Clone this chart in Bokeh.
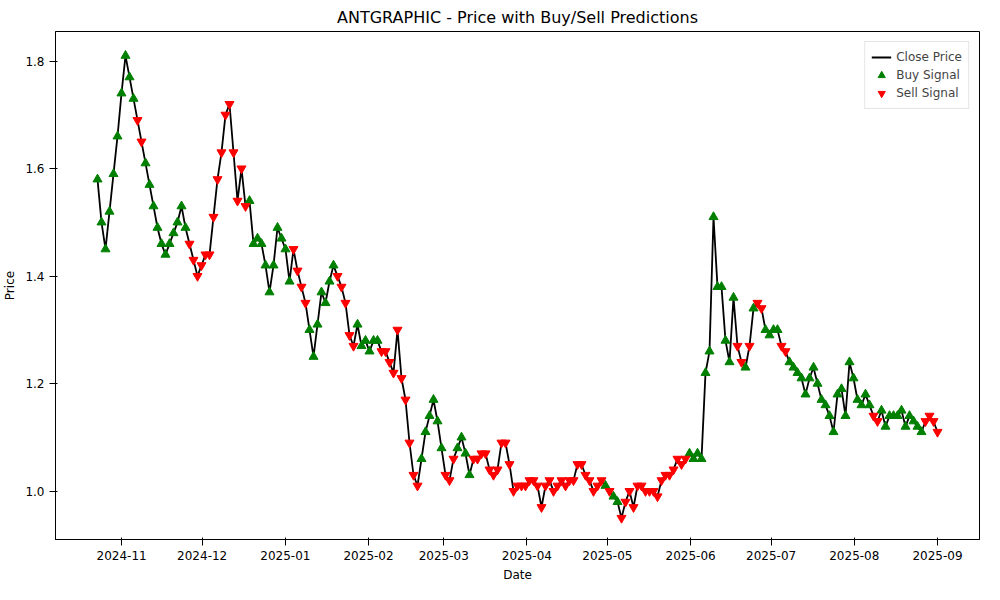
import pandas as pd
from bokeh.plotting import figure
from bokeh.models import (DatetimeTickFormatter, Legend, LegendItem, MonthsTicker,
                          NumeralTickFormatter)
from bokeh.embed import file_html
from bokeh.resources import INLINE

prices = [1.58, 1.50, 1.45, 1.52, 1.59, 1.66, 1.74, 1.81, 1.77, 1.73, 1.69, 1.65, 1.61, 1.57, 1.53, 1.49,
          1.46, 1.44, 1.46, 1.48, 1.50, 1.53, 1.49, 1.46, 1.43, 1.40, 1.42, 1.44, 1.44, 1.51, 1.58, 1.63,
          1.70, 1.72, 1.63, 1.54, 1.60, 1.53, 1.54, 1.46, 1.47, 1.46, 1.42, 1.37, 1.42, 1.49, 1.47, 1.45,
          1.39, 1.45, 1.41, 1.38, 1.35, 1.30, 1.25, 1.31, 1.37, 1.35, 1.39, 1.42, 1.40, 1.38, 1.35, 1.29,
          1.27, 1.31, 1.27, 1.28, 1.26, 1.28, 1.28, 1.26, 1.26, 1.24, 1.22, 1.30, 1.21, 1.17, 1.09, 1.03,
          1.01, 1.06, 1.11, 1.14, 1.17, 1.13, 1.08, 1.03, 1.02, 1.06, 1.08, 1.10, 1.07, 1.03, 1.06, 1.06,
          1.07, 1.07, 1.04, 1.03, 1.04, 1.09, 1.09, 1.05, 1.00, 1.01, 1.01, 1.01, 1.02, 1.02, 1.01, 0.97,
          1.01, 1.02, 1.00, 1.01, 1.02, 1.01, 1.02, 1.02, 1.05, 1.05, 1.03, 1.02, 1.00, 1.01, 1.02, 1.01,
          1.00, 0.99, 0.98, 0.95, 0.98, 1.00, 0.97, 1.01, 1.01, 1.00, 1.00, 1.00, 0.99, 1.02, 1.03, 1.03,
          1.04, 1.06, 1.05, 1.06, 1.07, 1.06, 1.07, 1.06, 1.22, 1.26, 1.51, 1.38, 1.38, 1.28, 1.24, 1.36,
          1.27, 1.24, 1.23, 1.27, 1.34, 1.35, 1.34, 1.30, 1.29, 1.30, 1.30, 1.27, 1.26, 1.24, 1.23, 1.22,
          1.21, 1.18, 1.21, 1.23, 1.20, 1.17, 1.16, 1.14, 1.11, 1.18, 1.19, 1.14, 1.24, 1.21, 1.17, 1.16,
          1.18, 1.16, 1.14, 1.13, 1.15, 1.12, 1.14, 1.14, 1.14, 1.15, 1.12, 1.14, 1.13, 1.12, 1.11, 1.13,
          1.14, 1.13, 1.11]
signals = ("BBBBBBBBBBSSBBBBBBBBBBBSSSSSSSSSSSSSSSBBBBBBBBBBBSSSSBBBBBBBSSSSSBBBBBBSSSSSSSSSS"
           "BBBBBBSSSBBBBSSSSSSSSSSSSSSSSSSSSSSSSSSSSSSSSSBSBBSSSSSSSSSSSSSSSSSBBBBBBBBBBBBS"
           "SBSBSSBBBBSSBBBBBBBBBBBBBBBBBBBBBSSBBBBBBBBBBBSSSSSSSS")
signals = (signals + "S" * len(prices))[:len(prices)]
dates = pd.date_range("2024-10-23", "2025-09-01", periods=len(prices))

buy_d = [d for d, s in zip(dates, signals) if s == "B"]
buy_p = [p for p, s in zip(prices, signals) if s == "B"]
sell_d = [d for d, s in zip(dates, signals) if s == "S"]
sell_p = [p for p, s in zip(prices, signals) if s == "S"]

p = figure(width=984, height=584, x_axis_type="datetime", output_backend="svg",
           toolbar_location=None, title="ANTGRAPHIC - Price with Buy/Sell Predictions",
           y_range=(0.91, 1.855))
p.title.align = "center"
p.title.text_font_size = "16px"
p.title.text_font_style = "normal"
p.title.text_font = "DejaVu Sans"
p.title.text_color = "black"
p.xgrid.visible = False
p.ygrid.visible = False
p.outline_line_color = "black"
for ax in (p.xaxis, p.yaxis):
    ax.axis_label_text_font_style = "normal"
    ax.axis_label_text_font = "DejaVu Sans"
    ax.major_label_text_font = "DejaVu Sans"
    ax.major_label_text_font_size = "12px"
    ax.axis_label_text_font_size = "12px"
    ax.major_label_text_color = "black"
    ax.axis_label_text_color = "black"
    ax.minor_tick_line_color = None
p.xaxis.axis_label = "Date"
p.yaxis.axis_label = "Price"
p.xaxis.ticker = MonthsTicker(months=list(range(1, 13)))
p.xaxis.formatter = DatetimeTickFormatter(months="%Y-%m", days="%Y-%m")
p.yaxis.formatter = NumeralTickFormatter(format="0.0")

line = p.line(dates, prices, color="black", line_width=1.8)
b = p.scatter(buy_d, buy_p, marker="triangle", size=9, color="green")
s = p.scatter(sell_d, sell_p, marker="inverted_triangle", size=9, color="red")

legend = Legend(items=[LegendItem(label="Close Price", renderers=[line]),
                       LegendItem(label="Buy Signal", renderers=[b]),
                       LegendItem(label="Sell Signal", renderers=[s])],
                location="top_right", label_text_font="DejaVu Sans",
                label_text_font_size="12px", border_line_color="#cccccc",
                spacing=0, padding=6, glyph_height=18, label_height=18)
p.add_layout(legend)

open("out.html", "w").write(file_html(p, INLINE))
